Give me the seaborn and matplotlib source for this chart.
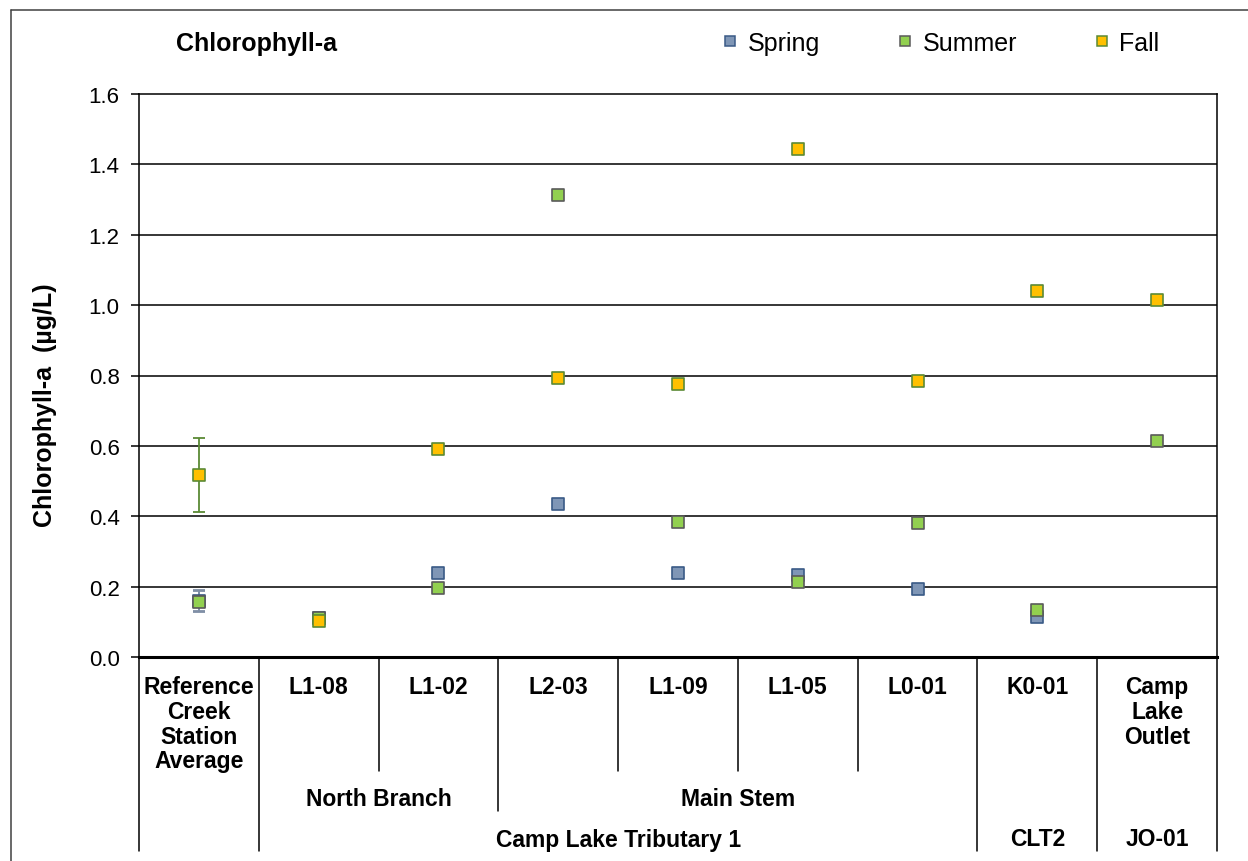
import numpy as np
import pandas as pd
import matplotlib
matplotlib.use("Agg")
import matplotlib.pyplot as plt
from matplotlib.lines import Line2D
import seaborn as sns

# ---------------- data ----------------
stations = ["Reference\nCreek\nStation\nAverage", "L1-08", "L1-02", "L2-03", "L1-09",
            "L1-05", "L0-01", "K0-01", "Camp\nLake\nOutlet"]
spring = [0.160, 0.110, 0.240, 0.435, 0.240, 0.233, 0.193, 0.113, np.nan]
summer = [0.157, 0.112, 0.195, 1.312, 0.383, 0.212, 0.382, 0.133, 0.613]
fall = [0.516, 0.101, 0.591, 0.793, 0.776, 1.443, 0.783, 1.040, 1.015]
# reference station error bars (half-widths)
ref_err_spring = 0.030
ref_err_summer = 0.030
ref_err_fall = 0.105

seasons = ["Spring", "Summer", "Fall"]
season_values = [spring, summer, fall]
group2 = [("North Branch", 1, 2), ("Main Stem", 3, 6)]
group3 = [("Camp Lake Tributary 1", 1, 6), ("CLT2", 7, 7), ("JO-01", 8, 8)]
y_ticks = [0.0, 0.2, 0.4, 0.6, 0.8, 1.0, 1.2, 1.4, 1.6]

fill = {"Spring": "#7f96b6", "Summer": "#92d050", "Fall": "#ffc000"}
edge = {"Spring": "#3a5a86", "Summer": "#5a5a5a", "Fall": "#5b8a35"}

# ---------------- style ----------------
sns.set_theme(style="white")
plt.rcParams["font.family"] = ["Liberation Sans", "DejaVu Sans"]
plt.rcParams["text.color"] = "black"
plt.rcParams["axes.labelcolor"] = "black"
plt.rcParams["xtick.color"] = "black"
plt.rcParams["ytick.color"] = "black"

W, H = 1248, 862
fig = plt.figure(figsize=(W / 100, H / 100), dpi=100)
ax = fig.add_axes([139 / W, 1 - 658 / H, (1217 - 139) / W, (658 - 95) / H])

keys = [f"S{i}" for i in range(len(stations))]
rows = []
for s, vals in zip(seasons, season_values):
    for k, v in zip(keys, vals):
        rows.append({"station": k, "season": s, "value": v})
df = pd.DataFrame(rows)

# error bars at the reference station
ax.errorbar([keys[0]], [spring[0]], yerr=ref_err_spring, fmt="none", ecolor="#7f8fa6",
            elinewidth=1.3, capsize=4.5, capthick=1.3, zorder=2)
ax.errorbar([keys[0]], [summer[0]], yerr=ref_err_summer, fmt="none", ecolor="#7f8fa6",
            elinewidth=1.3, capsize=4.5, capthick=1.3, zorder=3)
ax.errorbar([keys[0]], [fall[0]], yerr=ref_err_fall, fmt="none", ecolor="#5b8a35",
            elinewidth=1.3, capsize=4.5, capthick=1.3, zorder=4)

for i, s in enumerate(seasons):
    sub = df[df["season"] == s].dropna()
    sns.scatterplot(data=sub, x="station", y="value", ax=ax, marker="s", s=78,
                    color=fill[s], edgecolor=edge[s], linewidth=1.2, zorder=5 + i,
                    legend=False)

ax.set_xlim(-0.5, len(stations) - 0.5)
ax.set_ylim(0, 1.6)
ax.set_yticks(y_ticks)
ax.set_yticklabels([f"{t:.1f}" for t in y_ticks], fontsize=16, color="black")
ax.set_xticks([])
ax.set_xlabel("")
ax.set_ylabel("")
ax.grid(False)
for t in y_ticks[1:-1]:
    ax.axhline(t, color="black", lw=1.1, zorder=1)
ax.tick_params(axis="y", direction="out", length=6, width=1.1, color="black", pad=8,
               left=True)
for side in ["left", "top", "right"]:
    ax.spines[side].set_color("black")
    ax.spines[side].set_linewidth(1.1)
ax.spines["bottom"].set_color("black")
ax.spines["bottom"].set_linewidth(2.2)

# ---------------- category table ----------------
trans = ax.get_xaxis_transform()
ah = 658 - 95
def fy(py):
    return -(py - 658) / ah

y_r1, y_r2, y_r3 = fy(772), fy(812), fy(852)
n = len(stations)
for b in range(n + 1):
    xb = b - 0.5
    if b in (0, 1, 7, 8, 9):
        yb = y_r3
    elif b == 3:
        yb = y_r2
    else:
        yb = y_r1
    ax.plot([xb, xb], [0, yb], transform=trans, color="black", lw=1.1, clip_on=False)

for i, name in enumerate(stations):
    ax.text(i, fy(676), name, transform=trans, ha="center", va="top", fontsize=16.5,
            fontweight="bold", linespacing=1.1, color="black")
for name, a, b in group2:
    ax.text((a + b) / 2, fy(800), name, transform=trans, ha="center", va="center",
            fontsize=16.5, fontweight="bold", color="black")
for name, a, b in group3:
    ax.text((a + b) / 2, fy(840), name, transform=trans, ha="center", va="center",
            fontsize=16.5, fontweight="bold", color="black")

# ---------------- titles / labels ----------------
fig.text(176 / W, 1 - 44 / H, "Chlorophyll-a", ha="left", va="center", fontsize=18,
         fontweight="bold", color="black")
fig.text(45 / W, 1 - 405 / H, "Chlorophyll-a  (µg/L)", rotation=90, ha="center",
         va="center", fontsize=18, fontweight="bold", color="black")

handles = [Line2D([], [], ls="none", marker="s", markersize=7.5, markerfacecolor=fill[s],
                  markeredgecolor=edge[s], markeredgewidth=1.1, label=s) for s in seasons]
leg = fig.legend(handles=handles, loc="center", bbox_to_anchor=(941 / W, 1 - 44 / H),
                 ncol=3, frameon=False, fontsize=18, handlelength=0.6,
                 handletextpad=0.4, columnspacing=3.1, borderpad=0)
for t in leg.get_texts():
    t.set_color("black")

# outer chart border (partially visible)
fig.add_artist(Line2D([11 / W, 11 / W], [0, 1 - 11 / H], transform=fig.transFigure,
                      color="#404040", lw=1.1))
fig.add_artist(Line2D([11 / W, 1], [1 - 11 / H, 1 - 11 / H], transform=fig.transFigure,
                      color="#404040", lw=1.1))

fig.savefig("out.png", dpi=100, facecolor="white")
